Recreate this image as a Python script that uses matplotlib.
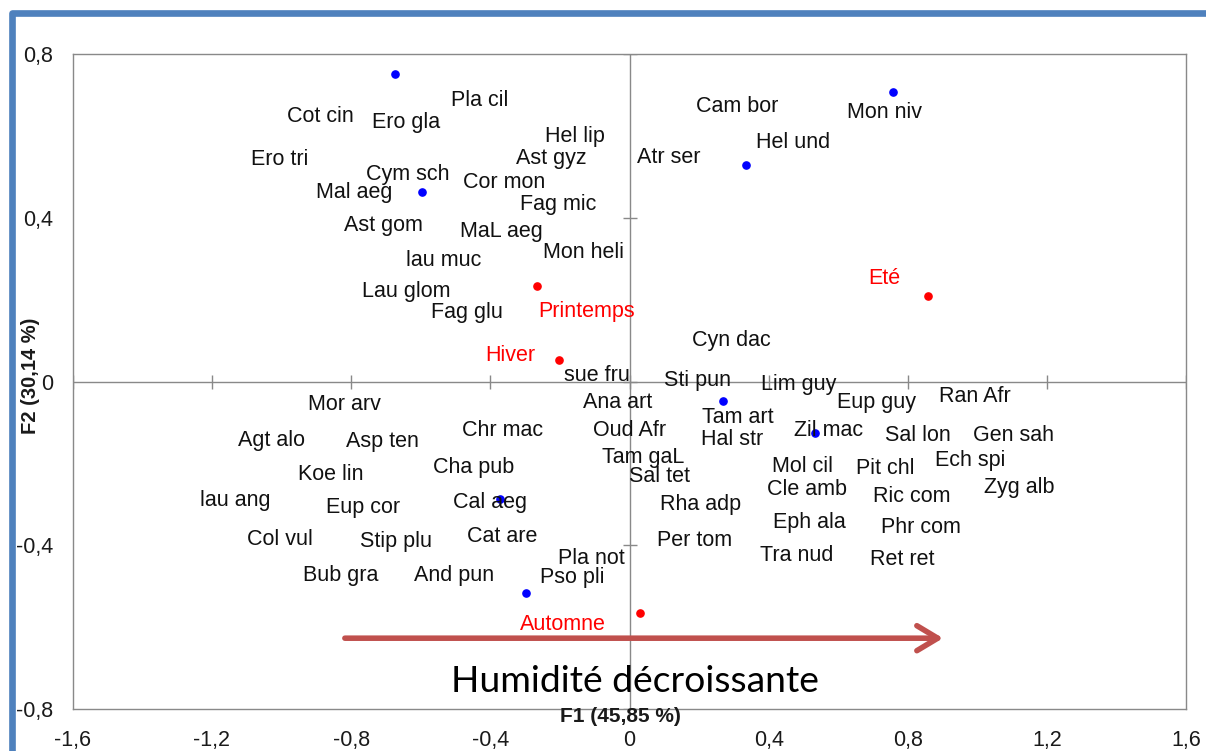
import matplotlib
matplotlib.use('Agg')
import matplotlib.pyplot as plt
from matplotlib.patches import Rectangle

plt.rcParams['font.family'] = ['Liberation Sans', 'DejaVu Sans']

# ---- data ----
species = ['Cot cin', 'Ero gla', 'Pla cil', 'Ero tri', 'Cym sch', 'Mal aeg', 'Hel lip', 'Ast gyz',
           'Cor mon', 'Fag mic', 'Ast gom', 'MaL aeg', 'lau muc', 'Mon heli', 'Lau glom', 'Fag glu',
           'Cam bor', 'Hel und', 'Mon niv', 'Atr ser', 'Cyn dac', 'sue fru', 'Sti pun', 'Lim guy',
           'Eup guy', 'Ran Afr', 'Ana art', 'Tam art', 'Hal str', 'Zil mac', 'Sal lon', 'Gen sah',
           'Mor arv', 'Agt alo', 'Asp ten', 'Chr mac', 'Oud Afr', 'Koe lin', 'Cha pub', 'Tam gaL',
           'Sal tet', 'Mol cil', 'Pit chl', 'Ech spi', 'lau ang', 'Eup cor', 'Cal aeg', 'Rha adp',
           'Cle amb', 'Ric com', 'Zyg alb', 'Col vul', 'Stip plu', 'Cat are', 'Per tom', 'Eph ala',
           'Phr com', 'Pla not', 'Tra nud', 'Ret ret', 'Bub gra', 'And pun', 'Pso pli']
species_x = [-0.887, -0.642, -0.430, -1.004, -0.636, -0.792, -0.157, -0.226,
             -0.361, -0.205, -0.706, -0.369, -0.533, -0.131, -0.642, -0.467,
             0.309, 0.470, 0.734, 0.114, 0.294, -0.093, 0.194, 0.487,
             0.711, 0.993, -0.033, 0.312, 0.294, 0.571, 0.829, 1.102,
             -0.820, -1.030, -0.711, -0.366, -0.001, -0.858, -0.447, 0.039,
             0.085, 0.496, 0.734, 0.978, -1.134, -0.766, -0.401, 0.203,
             0.510, 0.812, 1.119, -1.004, -0.671, -0.366, 0.188, 0.518,
             0.837, -0.111, 0.481, 0.783, -0.829, -0.504, -0.165]
species_y = [0.655, 0.640, 0.694, 0.550, 0.513, 0.469, 0.606, 0.552,
             0.493, 0.440, 0.388, 0.374, 0.303, 0.322, 0.227, 0.176,
             0.679, 0.591, 0.665, 0.555, 0.107, 0.022, 0.009, 0.000,
             -0.044, -0.030, -0.044, -0.081, -0.135, -0.113, -0.125, -0.125,
             -0.049, -0.137, -0.140, -0.113, -0.113, -0.220, -0.203, -0.179,
             -0.225, -0.201, -0.206, -0.186, -0.284, -0.301, -0.287, -0.294,
             -0.257, -0.274, -0.252, -0.379, -0.384, -0.372, -0.382, -0.338,
             -0.348, -0.424, -0.418, -0.427, -0.467, -0.467, -0.472]

blue_x = [-0.674, -0.596, 0.334, 0.757, 0.269, 0.533, -0.372, -0.297]
blue_y = [0.750, 0.462, 0.528, 0.706, -0.047, -0.125, -0.287, -0.516]

seasons = ['Printemps', 'Hiver', 'Eté', 'Automne']
season_x = [-0.266, -0.203, 0.858, 0.030]
season_y = [0.234, 0.053, 0.210, -0.565]

x_ticks = [-1.6, -1.2, -0.8, -0.4, 0.0, 0.4, 0.8, 1.2, 1.6]
x_tick_labels = ['-1,6', '-1,2', '-0,8', '-0,4', '0', '0,4', '0,8', '1,2', '1,6']
y_ticks = [-0.8, -0.4, 0.0, 0.4, 0.8]
y_tick_labels = ['-0,8', '-0,4', '0', '0,4', '0,8']

x_title = 'F1 (45,85 %)'
y_title = 'F2 (30,14 %)'
arrow_text = 'Humidité décroissante'
arrow_from = (-0.818, -0.627)
arrow_to = (0.901, -0.627)

# ---- styles ----
season_offsets = [(36, -18.8), (-35.3, 2.8), (-31.7, 12.2), (-55.4, -8.7)]  # points
LABEL_DY = -2.2  # points
GRAY = '#898989'
FS = 15.5

fig = plt.figure(figsize=(12.06, 7.51), dpi=100)
ax = fig.add_axes([0.0603, 0.0559, 0.9234, 0.8722])
ax.set_xlim(-1.6, 1.6)
ax.set_ylim(-0.8, 0.8)

for s in ax.spines.values():
    s.set_color(GRAY)
    s.set_linewidth(1.0)

ax.set_xticks(x_ticks)
ax.set_xticklabels(x_tick_labels)
ax.set_yticks(y_ticks)
ax.set_yticklabels(y_tick_labels)
ax.tick_params(axis='both', length=0, labelsize=FS, colors='#1a1a1a')
ax.tick_params(axis='x', pad=15)
ax.tick_params(axis='y', pad=14)

# centre axes with cross ticks
ax.axhline(0, color=GRAY, lw=1.0, zorder=1)
ax.axvline(0, color=GRAY, lw=1.0, zorder=1)
ax.plot(x_ticks, [0] * len(x_ticks), linestyle='none', marker='|', markersize=9.5,
        markeredgewidth=1.0, color=GRAY, zorder=1)
ax.plot([0] * len(y_ticks), y_ticks, linestyle='none', marker='_', markersize=10,
        markeredgewidth=1.0, color=GRAY, zorder=1)

# blue points
ax.plot(blue_x, blue_y, linestyle='none', marker='o', markersize=5.2, color='#0000FF', zorder=3)

# species labels
for name, x, y in zip(species, species_x, species_y):
    ax.annotate(name, (x, y), xytext=(0, LABEL_DY), textcoords='offset points',
                ha='center', va='center', fontsize=FS, color='#111111', zorder=4)

# seasons
ax.plot(season_x, season_y, linestyle='none', marker='o', markersize=5.2, color='#FF0000', zorder=3)
for name, x, y, off in zip(seasons, season_x, season_y, season_offsets):
    ax.annotate(name, (x, y), xytext=off, textcoords='offset points', ha='center', va='center',
                fontsize=FS, color='#FF0000', zorder=4)

# arrow
ax.annotate('', xy=arrow_to, xytext=arrow_from,
            arrowprops=dict(arrowstyle='->,head_length=0.75,head_width=0.45', color='#C0504D',
                            lw=4.0, shrinkA=0, shrinkB=0, mutation_scale=20), zorder=2)
ax.text(0.0158, -0.758, arrow_text, ha='center', va='baseline',
        fontsize=26.8, family=['Lato', 'DejaVu Sans'], color='black')

# axis titles
fig.text(620 / 1206, 1 - 717 / 751, x_title, ha='center', va='center', fontsize=15,
         fontweight='bold', color='#1a1a1a')
fig.text(31 / 1206, 1 - 376 / 751, y_title, ha='center', va='center', rotation=90, fontsize=14.5,
         fontweight='bold', color='#1a1a1a')

# blue frame
fig.patches.append(Rectangle((11.5 / 1206, -0.05), 1.2, 1.05 - 13.5 / 751, transform=fig.transFigure,
                             fill=False, edgecolor='#4F81BD', lw=4.8, joinstyle='round',
                             figure=fig))

fig.savefig('out.png', dpi=100)
